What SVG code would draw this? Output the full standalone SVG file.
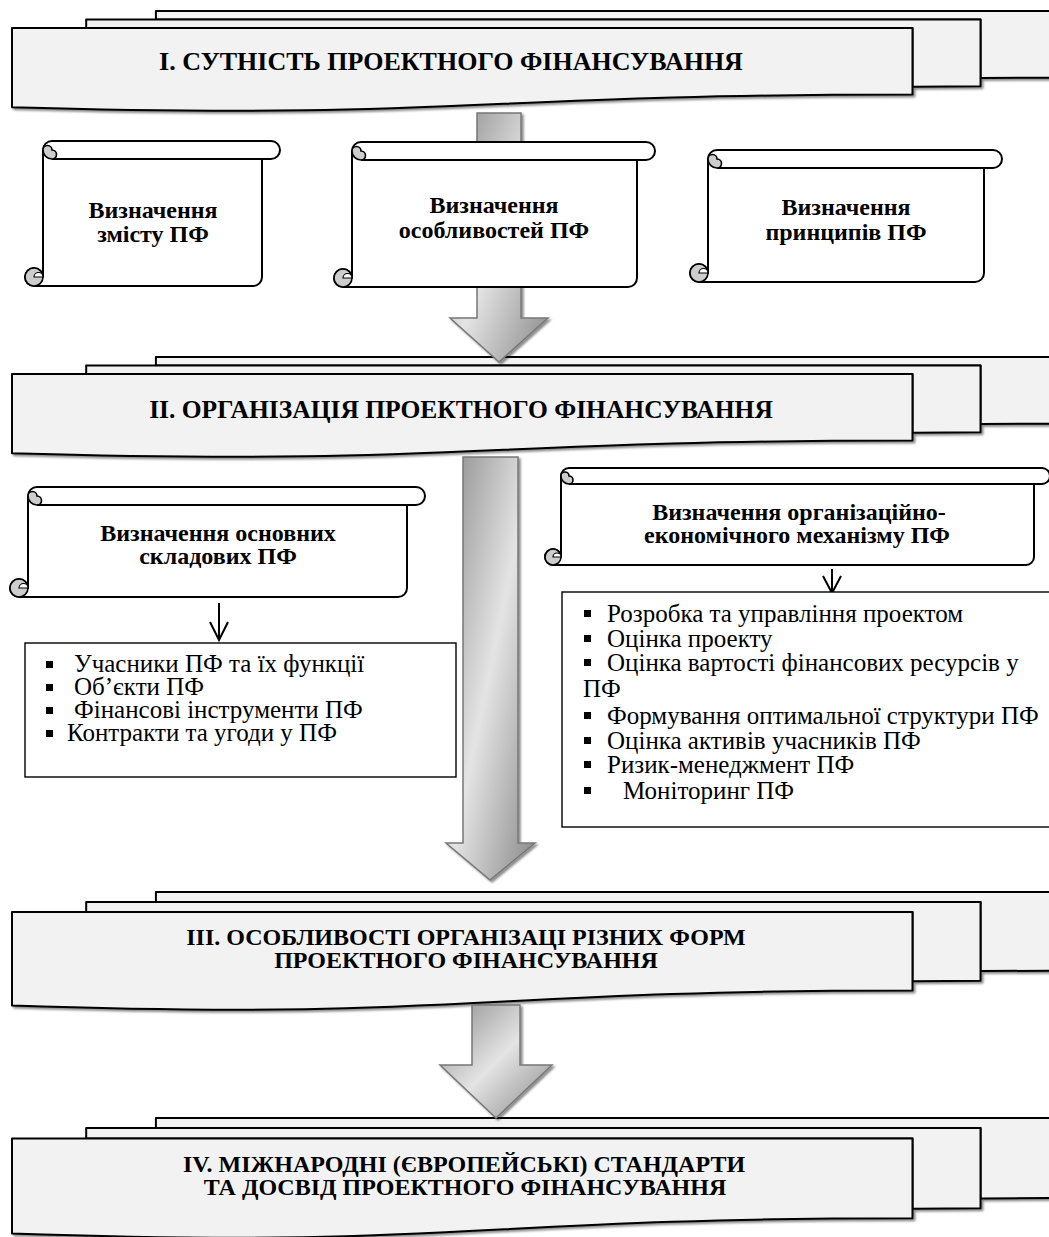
<svg xmlns="http://www.w3.org/2000/svg" xmlns:xlink="http://www.w3.org/1999/xlink" width="1049" height="1237" viewBox="0 0 1049 1237">
  <defs>
    <style>
      .doc { fill: #f2f2f2; stroke: #000; stroke-width: 2; vector-effect: non-scaling-stroke; stroke-linejoin: round; }
      .stage-title { font-family: "Liberation Serif", "Times New Roman", serif; font-weight: bold; fill: #000; text-anchor: middle; }
      .scroll-body { fill: #fff; stroke: #000; stroke-width: 2; stroke-linejoin: round; }
      .scroll-line { fill: none; stroke: #000; stroke-width: 2; }
      .curl { fill: #cdcdcd; stroke: #000; stroke-width: 1.6; }
      .notch { fill: #fff; stroke: #000; stroke-width: 1.2; }
      .scroll-text { font-family: "Liberation Serif", "Times New Roman", serif; font-weight: bold; font-size: 24px; fill: #000; text-anchor: middle; }
      .list-box { fill: #fff; stroke: #000; stroke-width: 1.4; }
      .list-text { font-family: "Liberation Serif", "Times New Roman", serif; font-size: 25px; fill: #000; }
      .bullet { fill: #000; }
      .big-arrow { fill: url(#arrowFill); stroke: #777; stroke-width: 1.5; stroke-linejoin: miter; }
      .thin-arrow { fill: none; stroke: #000; stroke-width: 2; }
    </style>
    <linearGradient id="arrowFill" x1="0" y1="0" x2="1" y2="1">
      <stop offset="0" stop-color="#8c8c8c"/>
      <stop offset="0.5" stop-color="#e4e4e4"/>
      <stop offset="1" stop-color="#878787"/>
    </linearGradient>
    <filter id="shadow" x="-5%" y="-10%" width="115%" height="130%">
      <feDropShadow dx="2" dy="2" stdDeviation="1" flood-color="#000" flood-opacity="0.45"/>
    </filter>
    <!-- three stacked documents, 21600-unit geometry -->
    <g id="multidoc">
      <path class="doc" d="M2972,1815 L2972,0 L21600,0 L21600,14392 C20800,14392 20000,14467 20000,14467 L20000,1815 Z"/>
      <path class="doc" d="M1532,3675 L1532,1815 L20000,1815 L20000,16252 C19298,16252 18595,16352 18595,16352 L18595,3675 Z"/>
      <path class="doc" d="M0,20782 C9298,23542 9298,18022 18595,18022 L18595,3675 L0,3675 Z"/>
    </g>
  </defs>

  <rect width="1049" height="1237" fill="#fff"/>

  <!-- Stage I -->
  <g id="stage-1">
    <g filter="url(#shadow)"><use xlink:href="#multidoc" transform="translate(12 11) scale(0.048426 0.00463)"/></g>
    <text class="stage-title" x="451" y="70" font-size="26">I. СУТНІСТЬ ПРОЕКТНОГО ФІНАНСУВАННЯ</text>
  </g>

  <!-- Stage II -->
  <g id="stage-2">
    <g filter="url(#shadow)"><use xlink:href="#multidoc" transform="translate(12 357) scale(0.048426 0.00463)"/></g>
    <text class="stage-title" x="461" y="418" font-size="25.5">II. ОРГАНІЗАЦІЯ ПРОЕКТНОГО ФІНАНСУВАННЯ</text>
  </g>

  <!-- Stage III -->
  <g id="stage-3">
    <g filter="url(#shadow)"><use xlink:href="#multidoc" transform="translate(12 892) scale(0.048426 0.005463)"/></g>
    <text class="stage-title" x="466" y="945" font-size="24">III. ОСОБЛИВОСТІ ОРГАНІЗАЦІ РІЗНИХ ФОРМ</text>
    <text class="stage-title" x="466" y="968" font-size="24">ПРОЕКТНОГО ФІНАНСУВАННЯ</text>
  </g>

  <!-- Stage IV -->
  <g id="stage-4">
    <g filter="url(#shadow)"><use xlink:href="#multidoc" transform="translate(12 1118) scale(0.048426 0.005556)"/></g>
    <text class="stage-title" x="464" y="1172" font-size="24">IV. МІЖНАРОДНІ (ЄВРОПЕЙСЬКІ) СТАНДАРТИ</text>
    <text class="stage-title" x="465" y="1195" font-size="24">ТА ДОСВІД ПРОЕКТНОГО ФІНАНСУВАННЯ</text>
  </g>

  <!-- Connectors: block arrows between stages and thin arrows to the lists -->
  <g id="connectors">
    <g filter="url(#shadow)">
      <polygon class="big-arrow" points="477,113 521,113 521,318 548,318 499,362 450,318 477,318"/>
      <polygon class="big-arrow" points="463,457 518,457 518,843 535,843 490,880 446,843 463,843"/>
      <polygon class="big-arrow" points="472,1005 520,1005 520,1065 552,1065 496,1118 440,1065 472,1065"/>
    </g>
    <path class="thin-arrow" d="M219,603 L219,640 M210,622 L219,640 L228,622"/>
    <path class="thin-arrow" d="M832,569 L832,593 M823,576 L832,593 L841,576"/>
  </g>

  <!-- Scroll: content of PF -->
  <g id="scroll-content">
    <path class="scroll-body" d="M52,141 L271,141 A9 9 0 0 1 271,159 L262,159 L262,277 A9 9 0 0 1 253,286 L34,286 A9 9 0 0 1 34,268 A9 9 0 0 1 43,277 L43,150 A9 9 0 0 1 52,141 Z"/>
    <path class="scroll-line" d="M262,159 L52,159"/>
    <path class="curl" d="M52,159 A9 9 0 0 1 43,150 A4.5 4.5 0 0 1 52,150 A4.5 4.5 0 0 1 52,159 Z"/>
    <circle class="curl" cx="34" cy="277" r="9"/>
    <path class="notch" d="M34,277 A4.5 4.5 0 0 1 43,277 Z"/>
    <text class="scroll-text" x="153" y="218">Визначення</text>
    <text class="scroll-text" x="153" y="242">змісту ПФ</text>
  </g>

  <!-- Scroll: features of PF -->
  <g id="scroll-features">
    <path class="scroll-body" d="M361,142 L646,142 A9 9 0 0 1 646,160 L637,160 L637,278 A9 9 0 0 1 628,287 L343,287 A9 9 0 0 1 343,269 A9 9 0 0 1 352,278 L352,151 A9 9 0 0 1 361,142 Z"/>
    <path class="scroll-line" d="M637,160 L361,160"/>
    <path class="curl" d="M361,160 A9 9 0 0 1 352,151 A4.5 4.5 0 0 1 361,151 A4.5 4.5 0 0 1 361,160 Z"/>
    <circle class="curl" cx="343" cy="278" r="9"/>
    <path class="notch" d="M343,278 A4.5 4.5 0 0 1 352,278 Z"/>
    <text class="scroll-text" x="494" y="213">Визначення</text>
    <text class="scroll-text" x="494" y="238">особливостей ПФ</text>
  </g>

  <!-- Scroll: principles of PF -->
  <g id="scroll-principles">
    <path class="scroll-body" d="M717,150 L993,150 A9 9 0 0 1 993,168 L984,168 L984,273 A9 9 0 0 1 975,282 L699,282 A9 9 0 0 1 699,264 A9 9 0 0 1 708,273 L708,159 A9 9 0 0 1 717,150 Z"/>
    <path class="scroll-line" d="M984,168 L717,168"/>
    <path class="curl" d="M717,168 A9 9 0 0 1 708,159 A4.5 4.5 0 0 1 717,159 A4.5 4.5 0 0 1 717,168 Z"/>
    <circle class="curl" cx="699" cy="273" r="9"/>
    <path class="notch" d="M699,273 A4.5 4.5 0 0 1 708,273 Z"/>
    <text class="scroll-text" x="846" y="215">Визначення</text>
    <text class="scroll-text" x="846" y="240">принципів ПФ</text>
  </g>

  <!-- Scroll: main components of PF -->
  <g id="scroll-components">
    <path class="scroll-body" d="M37,487 L416,487 A9 9 0 0 1 416,505 L407,505 L407,588 A9 9 0 0 1 398,597 L19,597 A9 9 0 0 1 19,579 A9 9 0 0 1 28,588 L28,496 A9 9 0 0 1 37,487 Z"/>
    <path class="scroll-line" d="M407,505 L37,505"/>
    <path class="curl" d="M37,505 A9 9 0 0 1 28,496 A4.5 4.5 0 0 1 37,496 A4.5 4.5 0 0 1 37,505 Z"/>
    <circle class="curl" cx="19" cy="588" r="9"/>
    <path class="notch" d="M19,588 A4.5 4.5 0 0 1 28,588 Z"/>
    <text class="scroll-text" x="218" y="541">Визначення основних</text>
    <text class="scroll-text" x="218" y="564">складових ПФ</text>
  </g>

  <!-- Scroll: organisational and economic mechanism of PF -->
  <g id="scroll-mechanism">
    <path class="scroll-body" d="M569,468 L1042,468 A8 8 0 0 1 1042,484 L1034,484 L1034,557 A8 8 0 0 1 1026,565 L553,565 A8 8 0 0 1 553,549 A8 8 0 0 1 561,557 L561,476 A8 8 0 0 1 569,468 Z"/>
    <path class="scroll-line" d="M1034,484 L569,484"/>
    <path class="curl" d="M569,484 A8 8 0 0 1 561,476 A4 4 0 0 1 569,476 A4 4 0 0 1 569,484 Z"/>
    <circle class="curl" cx="553" cy="557" r="8"/>
    <path class="notch" d="M553,557 A4 4 0 0 1 561,557 Z"/>
    <text class="scroll-text" x="799" y="520">Визначення організаційно-</text>
    <text class="scroll-text" x="797" y="543">економічного механізму ПФ</text>
  </g>

  <!-- List: components -->
  <g id="list-components">
    <rect class="list-box" x="25" y="643" width="431" height="134"/>
    <rect class="bullet" x="46" y="661" width="7" height="7"/>
    <rect class="bullet" x="46" y="684" width="7" height="7"/>
    <rect class="bullet" x="46" y="707" width="7" height="7"/>
    <rect class="bullet" x="46" y="730" width="7" height="7"/>
    <text class="list-text" x="74" y="672" font-size="23.5">Учасники ПФ та їх функції</text>
    <text class="list-text" x="74" y="695" font-size="23.5">Об’єкти ПФ</text>
    <text class="list-text" x="74" y="718" font-size="23.5">Фінансові інструменти ПФ</text>
    <text class="list-text" x="67" y="741" font-size="23.5">Контракти та угоди у ПФ</text>
  </g>

  <!-- List: mechanism -->
  <g id="list-mechanism">
    <rect class="list-box" x="562" y="592" width="500" height="235"/>
    <rect class="bullet" x="584" y="610" width="7" height="7"/>
    <rect class="bullet" x="584" y="635" width="7" height="7"/>
    <rect class="bullet" x="584" y="659" width="7" height="7"/>
    <rect class="bullet" x="584" y="712" width="7" height="7"/>
    <rect class="bullet" x="584" y="737" width="7" height="7"/>
    <rect class="bullet" x="584" y="761" width="7" height="7"/>
    <rect class="bullet" x="584" y="787" width="7" height="7"/>
    <text class="list-text" x="607" y="622">Розробка та управління проектом</text>
    <text class="list-text" x="607" y="647">Оцінка проекту</text>
    <text class="list-text" x="607" y="671">Оцінка вартості фінансових ресурсів у</text>
    <text class="list-text" x="583" y="697">ПФ</text>
    <text class="list-text" x="607" y="724">Формування оптимальної структури ПФ</text>
    <text class="list-text" x="607" y="749">Оцінка активів учасників ПФ</text>
    <text class="list-text" x="607" y="773">Ризик-менеджмент ПФ</text>
    <text class="list-text" x="623" y="799">Моніторинг ПФ</text>
  </g>
</svg>
